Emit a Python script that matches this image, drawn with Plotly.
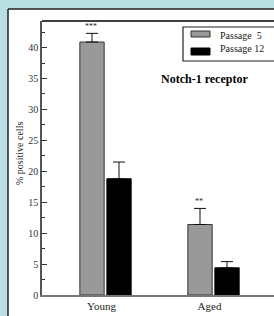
import plotly.graph_objects as go

categories = ["Young", "Aged"]
series_names = ["Passage  5", "Passage 12"]
passage5 = [40.9, 11.4]
passage5_err = [1.4, 2.6]
passage12 = [18.8, 4.4]
passage12_err = [2.7, 1.0]
stars_p5 = ["***", "**"]
y_ticks = [0, 5, 10, 15, 20, 25, 30, 35, 40]

SERIF = "Liberation Serif, Times New Roman, serif"
W, H = 274, 316
ML, MR, MT, MB = 42, 0, 21, 21
PW, PH = W - ML - MR, H - MT - MB


def px(x):
    return (x - ML) / PW


def py(y):
    return (H - MB - y) / PH


fig = go.Figure()
fig.add_trace(go.Bar(
    x=categories, y=passage5, name=series_names[0],
    marker=dict(color="#999999", line=dict(color="#333333", width=1)),
    error_y=dict(type="data", array=passage5_err, arrayminus=[0, 0], symmetric=False,
                 color="#111111", thickness=1, width=6),
    showlegend=False,
))
fig.add_trace(go.Bar(
    x=categories, y=passage12, name=series_names[1],
    marker=dict(color="#000000", line=dict(color="#000000", width=1)),
    error_y=dict(type="data", array=passage12_err, arrayminus=[0, 0], symmetric=False,
                 color="#111111", thickness=1, width=6),
    showlegend=False,
))

annotations = []
for i, cat in enumerate(categories):
    annotations.append(dict(
        x=cat, y=passage5[i] + passage5_err[i], xref="x", yref="y",
        text=stars_p5[i], showarrow=False, xanchor="center", yanchor="bottom",
        yshift=0, xshift=-14.5, font=dict(family=SERIF, size=8, color="#222")))

# title
annotations.append(dict(x=px(204), y=py(79), xref="paper", yref="paper",
                        text="<b>Notch-1 receptor</b>", showarrow=False,
                        xanchor="center", yanchor="middle",
                        font=dict(family=SERIF, size=12, color="#000")))
# y axis title
annotations.append(dict(x=px(19), y=py(154), xref="paper", yref="paper",
                        text="% positive cells", showarrow=False, textangle=-90,
                        xanchor="center", yanchor="middle",
                        font=dict(family=SERIF, size=10, color="#222")))
# legend texts
annotations.append(dict(x=px(218), y=py(35), xref="paper", yref="paper",
                        text=series_names[0], showarrow=False,
                        xanchor="left", yanchor="middle",
                        font=dict(family=SERIF, size=10, color="#222")))
annotations.append(dict(x=px(218), y=py(48.5), xref="paper", yref="paper",
                        text=series_names[1], showarrow=False,
                        xanchor="left", yanchor="middle",
                        font=dict(family=SERIF, size=10, color="#222")))

shapes = [
    # white panel
    dict(type="rect", xref="paper", yref="paper", x0=px(8), x1=1.2, y0=-0.3, y1=py(9),
         fillcolor="white", line=dict(width=0), layer="below"),
    dict(type="line", xref="paper", yref="paper", x0=px(8), x1=px(8), y0=-0.3, y1=py(9),
         line=dict(color="#222", width=1.5)),
    dict(type="line", xref="paper", yref="paper", x0=px(8), x1=1.2, y0=py(9), y1=py(9),
         line=dict(color="#222", width=1.5)),
    # top frame line
    dict(type="line", xref="paper", yref="paper", x0=0, x1=1.2, y0=1, y1=1,
         line=dict(color="#000", width=1.5)),
    # legend box
    dict(type="rect", xref="paper", yref="paper", x0=px(183), x1=1.2, y0=py(61), y1=py(27),
         fillcolor="white", line=dict(color="#222", width=1.2)),
    dict(type="rect", xref="paper", yref="paper", x0=px(191), x1=px(210), y0=py(37), y1=py(31),
         fillcolor="#999999", line=dict(color="#333", width=1)),
    dict(type="rect", xref="paper", yref="paper", x0=px(191), x1=px(210), y0=py(55), y1=py(48),
         fillcolor="#000000", line=dict(color="#000", width=1)),
]

fig.update_layout(
    width=W, height=H,
    margin=dict(l=ML, r=MR, t=MT, b=MB, pad=0),
    paper_bgcolor="#badfe2",
    plot_bgcolor="white",
    barmode="group", bargap=0.5, bargroupgap=0.1,
    font=dict(family=SERIF, size=10, color="#333"),
    annotations=annotations,
    shapes=shapes,
    xaxis=dict(range=[-0.588, 1.56], showline=True, linecolor="#777", linewidth=1.5,
               ticks="", showgrid=False, zeroline=False, ticklabelshift=-4,
               tickfont=dict(family=SERIF, size=11, color="#222")),
    yaxis=dict(range=[0, 44.3], tickvals=y_ticks, ticks="inside", ticklen=5,
               tickcolor="#333", showline=True, linecolor="#555", linewidth=1.5,
               showgrid=False, zeroline=False,
               minor=dict(dtick=2.5, ticks="inside", ticklen=3, tickcolor="#333"),
               tickfont=dict(family=SERIF, size=10, color="#333")),
)

fig.write_html(
    "out.html",
    config={"displayModeBar": False},
    post_script="document.body.style.margin='0';document.body.style.padding='0';"
                "document.body.style.overflow='hidden';",
)
